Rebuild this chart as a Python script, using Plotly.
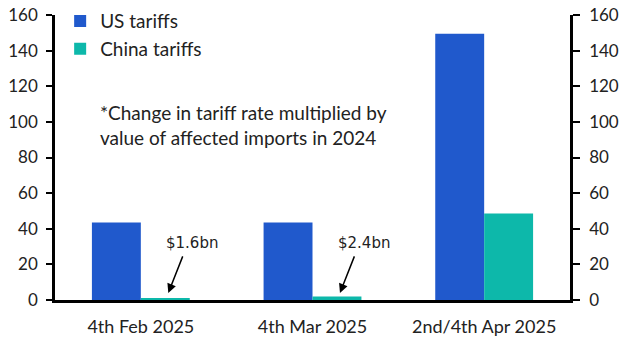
import plotly.graph_objects as go

categories = ["4th Feb 2025", "4th Mar 2025", "2nd/4th Apr 2025"]
us_tariffs = [43.5, 43.5, 149.5]
china_tariffs = [0.8, 1.9, 48.5]
note = "*Change in tariff rate multiplied by<br>value of affected imports in 2024"
callouts = ["$1.6bn", "$2.4bn"]

FONT = "Lato"
fig = go.Figure()
fig.add_bar(x=categories, y=us_tariffs, name="US tariffs", marker_color="#2059CC", marker_line_width=0)
fig.add_bar(x=categories, y=china_tariffs, name="China tariffs", marker_color="#0DB8AA", marker_line_width=0)
fig.add_scatter(x=categories, y=[None]*3, yaxis="y2", showlegend=False, hoverinfo="skip")

fig.update_layout(
    width=629, height=354,
    margin=dict(l=55, r=59, t=15, b=54, autoexpand=False),
    plot_bgcolor="white", paper_bgcolor="white",
    barmode="group", bargap=0.43, bargroupgap=0,
    font=dict(family=FONT, size=18, color="#222"),
    showlegend=True,
    legend=dict(x=0.01, y=1.045, xanchor="left", yanchor="top", bgcolor="rgba(0,0,0,0)",
                font=dict(size=19), itemsizing="constant", tracegroupgap=2, itemwidth=30),
    xaxis=dict(showline=True, linecolor="black", linewidth=3, ticks="", showgrid=False,
               tickfont=dict(size=18), ticklabelstandoff=8),
    yaxis=dict(range=[0, 160], dtick=20, showline=True, linecolor="black", linewidth=2.5,
               ticks="outside", ticklen=6, tickwidth=2, tickcolor="black", showgrid=False,
               zeroline=False, tickfont=dict(size=17), ticklabelstandoff=5),
    yaxis2=dict(range=[0, 160], dtick=20, overlaying="y", side="right", showline=True,
                linecolor="black", linewidth=2.5, ticks="outside", ticklen=7, tickwidth=2,
                tickcolor="black", showgrid=False, zeroline=False, tickfont=dict(size=17),
                ticklabelstandoff=6),
)

fig.add_annotation(xref="paper", yref="paper", x=0.083, y=0.613, xanchor="left", yanchor="middle",
                   text=note, showarrow=False, align="left", font=dict(size=19))

for i, txt in enumerate(callouts):
    fig.add_annotation(x=i + 0.16, y=4, xref="x", yref="y", text="",
                       showarrow=True, arrowhead=2, arrowsize=1.2, arrowwidth=1.5, arrowcolor="black",
                       ax=15, ay=-38)
    fig.add_annotation(x=i + 0.3, y=32, xref="x", yref="y", text=txt, showarrow=False,
                       font=dict(family="DejaVu Sans", size=15, color="#222"))

fig.write_html("out.html")
